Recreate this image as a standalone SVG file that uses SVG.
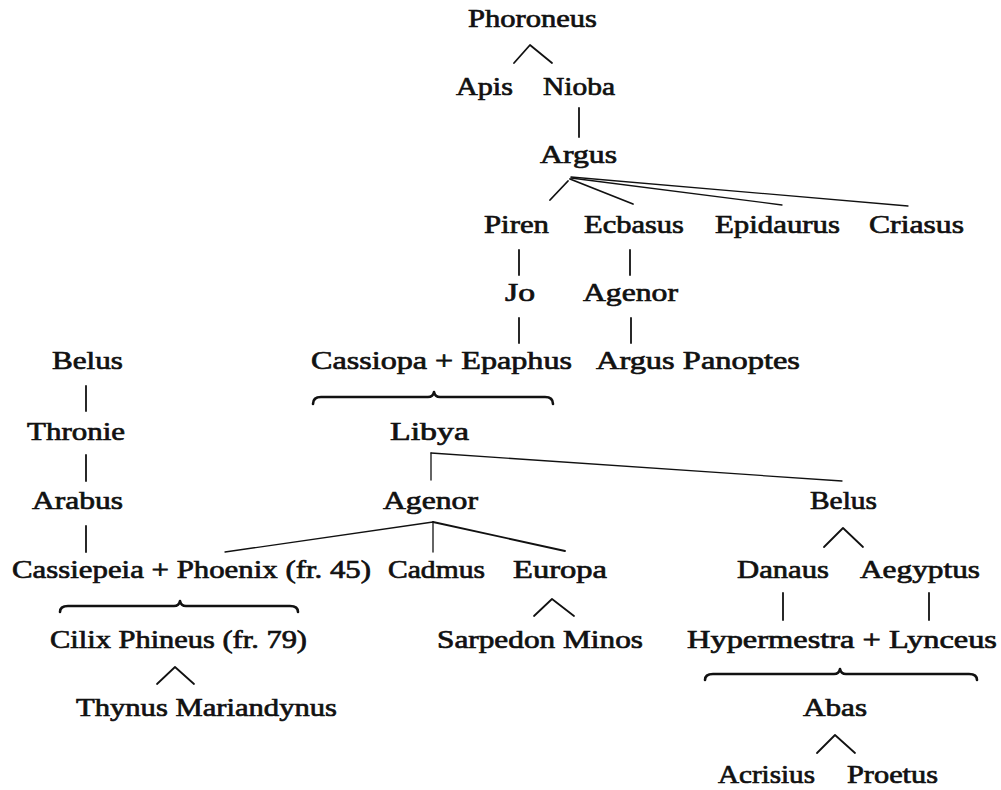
<svg xmlns="http://www.w3.org/2000/svg" width="1001" height="790" viewBox="0 0 1001 790">
<style>
text{font-family:"Liberation Serif","Times New Roman",serif;font-size:26px;fill:#111;stroke:#111;stroke-width:0.7px}
.c{fill:none;stroke:#111;stroke-width:1.8;stroke-linecap:round;stroke-linejoin:round}
.t{stroke-width:1.3}
.b{fill:none;stroke:#111;stroke-width:2.6;stroke-linecap:round;stroke-linejoin:round}
</style>
<rect width="1001" height="790" fill="#fff"/>
<g id="connectors">
<path class="c" d="M514,63 L530,45 L552,63"/>
<path class="c" d="M579,108 V137"/>
<path class="c" d="M568,181 L550,200"/>
<path class="c" d="M570,179 L633,204"/>
<path class="c t" d="M571,178 L782,205"/>
<path class="c t" d="M571,177 L908,206"/>
<path class="c" d="M519,250 V275"/>
<path class="c" d="M630,250 V275"/>
<path class="c" d="M519,318 V343"/>
<path class="c" d="M631,318 V343"/>
<path class="b" d="M313,404 Q313,397 321,397 L428,397 Q433,397 434,392 Q435,397 440,397 L545,397 Q553,397 553,404"/>
<path class="c" d="M86,386 V411"/>
<path class="c" d="M86,455 V481"/>
<path class="c" d="M86,526 V552"/>
<path class="c t" d="M431,453 V480"/>
<path class="c t" d="M431,453 L842,481"/>
<path class="c t" d="M433,522 L225,552"/>
<path class="c t" d="M433,522 V552"/>
<path class="c" d="M433,522 L565,551"/>
<path class="c" d="M824,547 L843,528 L863,547"/>
<path class="c" d="M534,616 L552,599 L574,616"/>
<path class="c" d="M783,593 V620"/>
<path class="c" d="M929,593 V620"/>
<path class="b" d="M60,612 Q60,606 68,606 L174,606 Q179,606 180,601 Q181,606 186,606 L290,606 Q298,606 298,612"/>
<path class="c" d="M157,684 L175,667 L194,684"/>
<path class="b" d="M705,680 Q705,674 713,674 L834,674 Q839,674 840,669 Q841,674 846,674 L969,674 Q977,674 977,680"/>
<path class="c" d="M817,753 L835,735 L855,753"/>
</g>
<g id="phoroneus"><text x="468" y="27" textLength="129" lengthAdjust="spacingAndGlyphs">Phoroneus</text></g>
<g id="apis"><text x="456" y="95" textLength="57" lengthAdjust="spacingAndGlyphs">Apis</text></g>
<g id="nioba"><text x="543" y="95" textLength="72" lengthAdjust="spacingAndGlyphs">Nioba</text></g>
<g id="argus"><text x="540" y="163" textLength="77" lengthAdjust="spacingAndGlyphs">Argus</text></g>
<g id="piren"><text x="484" y="233" textLength="65" lengthAdjust="spacingAndGlyphs">Piren</text></g>
<g id="ecbasus"><text x="584" y="233" textLength="100" lengthAdjust="spacingAndGlyphs">Ecbasus</text></g>
<g id="epidaurus"><text x="715" y="233" textLength="125" lengthAdjust="spacingAndGlyphs">Epidaurus</text></g>
<g id="criasus"><text x="869" y="233" textLength="95" lengthAdjust="spacingAndGlyphs">Criasus</text></g>
<g id="jo"><text x="505" y="301" textLength="30" lengthAdjust="spacingAndGlyphs">Jo</text></g>
<g id="agenor-1"><text x="583" y="301" textLength="95" lengthAdjust="spacingAndGlyphs">Agenor</text></g>
<g id="cassiopa-epaphus"><text x="311" y="369" textLength="261" lengthAdjust="spacingAndGlyphs">Cassiopa + Epaphus</text></g>
<g id="argus-panoptes"><text x="596" y="369" textLength="204" lengthAdjust="spacingAndGlyphs">Argus  Panoptes</text></g>
<g id="belus-1"><text x="52" y="369" textLength="71" lengthAdjust="spacingAndGlyphs">Belus</text></g>
<g id="thronie"><text x="27" y="440" textLength="98" lengthAdjust="spacingAndGlyphs">Thronie</text></g>
<g id="libya"><text x="390" y="440" textLength="79" lengthAdjust="spacingAndGlyphs">Libya</text></g>
<g id="arabus"><text x="32" y="509" textLength="91" lengthAdjust="spacingAndGlyphs">Arabus</text></g>
<g id="agenor-2"><text x="383" y="509" textLength="95" lengthAdjust="spacingAndGlyphs">Agenor</text></g>
<g id="belus-2"><text x="810" y="509" textLength="67" lengthAdjust="spacingAndGlyphs">Belus</text></g>
<g id="cassiepeia-phoenix"><text x="12" y="578" textLength="359" lengthAdjust="spacingAndGlyphs">Cassiepeia + Phoenix (fr. 45)</text></g>
<g id="cadmus"><text x="388" y="578" textLength="97" lengthAdjust="spacingAndGlyphs">Cadmus</text></g>
<g id="europa"><text x="513" y="578" textLength="94" lengthAdjust="spacingAndGlyphs">Europa</text></g>
<g id="danaus"><text x="737" y="578" textLength="92" lengthAdjust="spacingAndGlyphs">Danaus</text></g>
<g id="aegyptus"><text x="860" y="578" textLength="120" lengthAdjust="spacingAndGlyphs">Aegyptus</text></g>
<g id="cilix-phineus"><text x="50" y="648" textLength="257" lengthAdjust="spacingAndGlyphs">Cilix  Phineus (fr. 79)</text></g>
<g id="sarpedon-minos"><text x="437" y="648" textLength="206" lengthAdjust="spacingAndGlyphs">Sarpedon  Minos</text></g>
<g id="hypermestra-lynceus"><text x="687" y="648" textLength="310" lengthAdjust="spacingAndGlyphs">Hypermestra + Lynceus</text></g>
<g id="thynus-mariandynus"><text x="76" y="716" textLength="261" lengthAdjust="spacingAndGlyphs">Thynus  Mariandynus</text></g>
<g id="abas"><text x="803" y="716" textLength="64" lengthAdjust="spacingAndGlyphs">Abas</text></g>
<g id="acrisius"><text x="718" y="783" textLength="97" lengthAdjust="spacingAndGlyphs">Acrisius</text></g>
<g id="proetus"><text x="847" y="783" textLength="91" lengthAdjust="spacingAndGlyphs">Proetus</text></g>
</svg>
